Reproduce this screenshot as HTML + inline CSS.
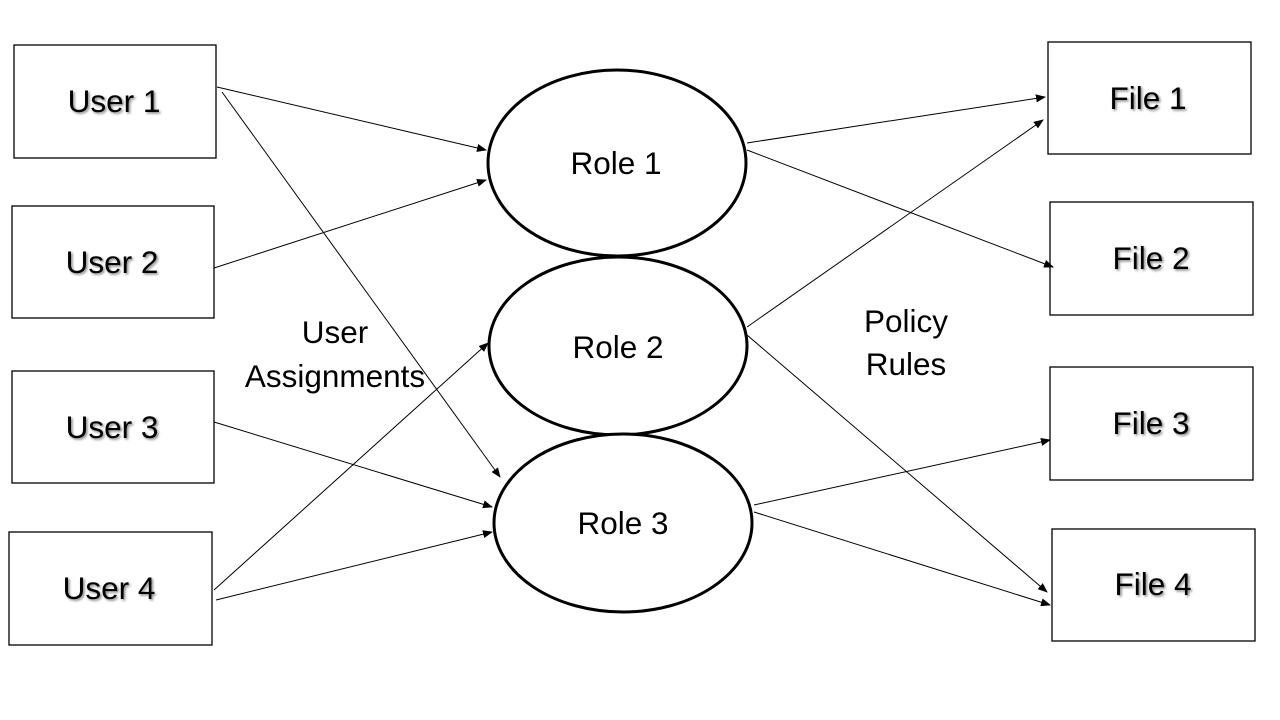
<!DOCTYPE html>
<html><head><style>body{margin:0;background:#fff}svg{display:block}text{font-family:"Liberation Sans",Arial,sans-serif;font-size:31.5px;fill:#000}</style></head><body>
<svg width="1280" height="720" viewBox="0 0 1280 720">
<defs>
<marker id="a" markerWidth="10" markerHeight="8" refX="9" refY="4" orient="auto" markerUnits="userSpaceOnUse"><path d="M0,0 L10,4 L0,8 z" fill="#000"/></marker>
<filter id="s" x="-20%" y="-20%" width="140%" height="140%"><feGaussianBlur in="SourceAlpha" stdDeviation="1.2"/><feOffset dx="1.5" dy="1.5"/><feComponentTransfer><feFuncA type="linear" slope="0.5"/></feComponentTransfer><feMerge><feMergeNode/><feMergeNode in="SourceGraphic"/></feMerge></filter>
</defs>
<g fill="#fff" stroke="#000" stroke-width="1.3">
<rect x="14" y="45" width="202" height="113"/>
<rect x="12" y="206" width="202" height="112"/>
<rect x="12" y="371" width="202" height="112"/>
<rect x="9" y="532" width="203" height="113"/>
<rect x="1048" y="42" width="203" height="112"/>
<rect x="1050" y="202" width="203" height="113"/>
<rect x="1050" y="367" width="203" height="113"/>
<rect x="1052" y="529" width="203" height="112"/>
</g>
<g fill="#fff" stroke="#000" stroke-width="3">
<ellipse cx="617" cy="163" rx="129" ry="93"/>
<ellipse cx="618" cy="346" rx="129" ry="89"/>
<ellipse cx="623" cy="523" rx="129" ry="89"/>
</g>
<g stroke="#000" stroke-width="1" marker-end="url(#a)">
<line x1="217" y1="87" x2="486" y2="150"/>
<line x1="222" y1="92" x2="500" y2="477"/>
<line x1="214" y1="268" x2="486" y2="180"/>
<line x1="214" y1="422" x2="492" y2="507"/>
<line x1="214" y1="590" x2="488" y2="343"/>
<line x1="216" y1="600" x2="492" y2="532"/>
<line x1="747" y1="143" x2="1045" y2="97"/>
<line x1="747" y1="150" x2="1053" y2="267"/>
<line x1="747" y1="327" x2="1043" y2="120"/>
<line x1="747" y1="335" x2="1047" y2="592"/>
<line x1="754" y1="505" x2="1050" y2="440"/>
<line x1="754" y1="512" x2="1050" y2="605"/>
</g>
<g text-anchor="middle" filter="url(#s)">
<text x="114" y="112">User 1</text>
<text x="112" y="273">User 2</text>
<text x="112" y="438">User 3</text>
<text x="109" y="599">User 4</text>
<text x="1148" y="109">File 1</text>
<text x="1151" y="269">File 2</text>
<text x="1151" y="434">File 3</text>
<text x="1153" y="595">File 4</text>
</g>
<g text-anchor="middle">
<text x="616" y="174">Role 1</text>
<text x="618" y="358">Role 2</text>
<text x="623" y="534">Role 3</text>
<text x="335" y="343">User</text>
<text x="335" y="387">Assignments</text>
<text x="906" y="332">Policy</text>
<text x="906" y="375">Rules</text>
</g>
</svg>
</body></html>
